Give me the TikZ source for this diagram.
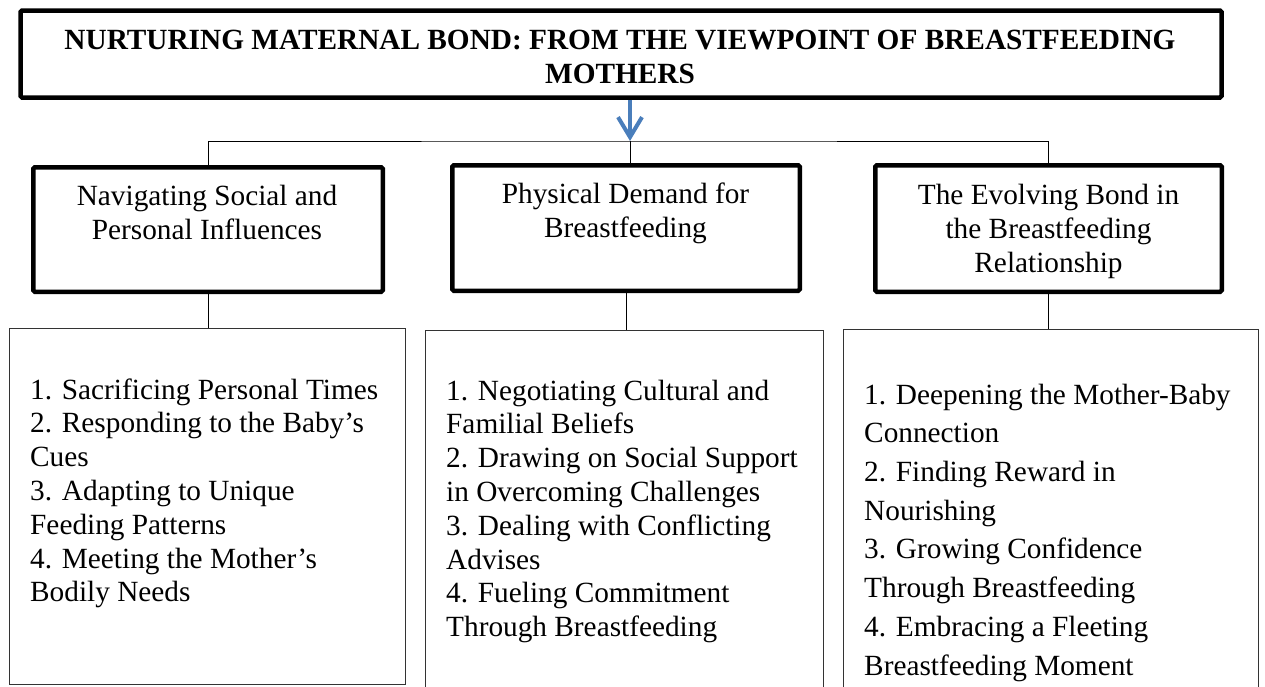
\documentclass[tikz,border=0pt]{standalone}
\usepackage{fontspec}
\setmainfont{Liberation Serif}
\usetikzlibrary{arrows.meta}
\definecolor{arrowblue}{HTML}{4A7EBB}
\begin{document}
\begin{tikzpicture}[x=1pt,y=-1pt,
  txt/.style={font=\fontsize{29.3}{33.8}\selectfont, inner sep=0pt, align=left},
  txtwide/.style={font=\fontsize{29.3}{38.7}\selectfont, inner sep=0pt, align=left},
  ctxt/.style={font=\fontsize{29.3}{34}\selectfont, inner sep=0pt, align=center},
  ttl/.style={font=\bfseries\fontsize{29.3}{33.5}\selectfont, inner sep=0pt, align=center},
  heavybox/.style={draw, line width=4.5pt, rounded corners=1.5pt, inner sep=0pt},
  thinbox/.style={draw=black!80, line width=0.9pt, inner sep=0pt},
  conn/.style={draw, line width=1pt},
  bluearrow/.style={draw=arrowblue, line width=4pt, -{Straight Barb[length=20pt, width=24pt]}}
]
\path[use as bounding box] (0,0) rectangle (1265,686);
\clip (0,0) rectangle (1265,686);

% top box
\node[heavybox, minimum width=1201pt, minimum height=87pt] (top) at (621,54) {};
\node[ttl, anchor=base] (title) at (620,83) {NURTURING MATERNAL BOND: FROM THE VIEWPOINT OF BREASTFEEDING\\MOTHERS};

% middle boxes
\node[heavybox, minimum width=349.5pt, minimum height=124.5pt] (m1) at (208,229.5) {};
\node[heavybox, minimum width=347.5pt, minimum height=125.5pt] (m2) at (626,228) {};
\node[heavybox, minimum width=346.5pt, minimum height=126.5pt] (m3) at (1048.5,228.5) {};
\node[ctxt, anchor=base] (t1) at (207,239.5) {Navigating Social and\\Personal Influences};
\node[ctxt, anchor=base] (t2) at (625.5,237.5) {Physical Demand for\\Breastfeeding};
\node[ctxt, anchor=base] (t3) at (1048.5,272) {The Evolving Bond in\\the Breastfeeding\\Relationship};

% bottom boxes
\node[thinbox, minimum width=396pt, minimum height=356pt] (b1) at (207.5,506.5) {};
\node[thinbox, minimum width=398pt, minimum height=389.5pt] (b2) at (624.5,525.25) {};
\node[thinbox, minimum width=415pt, minimum height=390.5pt] (b3) at (1051,524.75) {};
\node[txt, anchor=base west] (l1) at (30,601.8) {1. Sacrificing Personal Times\\2. Responding to the Baby’s\\Cues\\3. Adapting to Unique\\Feeding Patterns\\4. Meeting the Mother’s\\Bodily Needs};
\node[txt, anchor=base west] (l2) at (446,636.6) {1. Negotiating Cultural and\\Familial Beliefs\\2. Drawing on Social Support\\in Overcoming Challenges\\3. Dealing with Conflicting\\Advises\\4. Fueling Commitment\\Through Breastfeeding};
\node[txtwide, anchor=base west] (l3) at (864,675) {1. Deepening the Mother-Baby\\Connection\\2. Finding Reward in\\Nourishing\\3. Growing Confidence\\Through Breastfeeding\\4. Embracing a Fleeting\\Breastfeeding Moment};

% connectors
\coordinate (j) at (630,141);
\draw[bluearrow] (top.south -| j) -- (j);
\draw[conn] (m1.north) |- (j) -| (m3.north);
\draw[conn] (j) -- (j |- m2.north);
\draw[conn] (m1.south) -- (m1.south |- b1.north);
\draw[conn] (m2.south) -- (m2.south |- b2.north);
\draw[conn] (m3.south) -- (m3.south |- b3.north);
\end{tikzpicture}
\end{document}
